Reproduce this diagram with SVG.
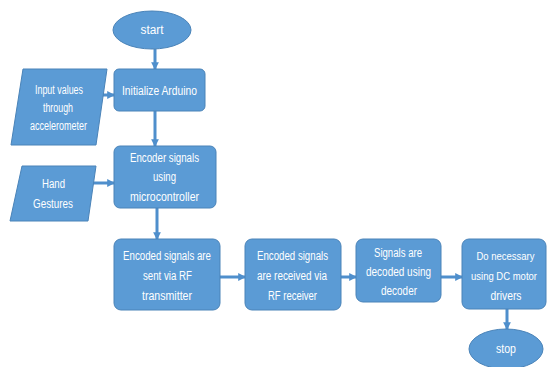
<svg xmlns="http://www.w3.org/2000/svg" width="547" height="367" viewBox="0 0 547 367">
<defs>
<style>
.n{fill:#5b9bd5;stroke:#4a83b8;stroke-width:1}
.t{font-family:"Liberation Sans",Arial,sans-serif;font-size:12.5px;fill:#ffffff;text-anchor:middle}
.s{font-size:11.5px}
.c{stroke:#4f8fcc;stroke-width:3;fill:none}
</style>
<marker id="ah" viewBox="0 0 8 8" refX="7" refY="4" markerWidth="2.6" markerHeight="2.6" orient="auto" markerUnits="strokeWidth">
<path d="M0,0 L8,4 L0,8 Z" fill="#4f8fcc"/>
</marker>
</defs>
<rect width="547" height="367" fill="#ffffff"/>
<g id="connectors">
<line class="c" x1="155" y1="49" x2="155" y2="69" marker-end="url(#ah)"/>
<line class="c" x1="103" y1="95" x2="114" y2="95" marker-end="url(#ah)"/>
<line class="c" x1="155" y1="111" x2="155" y2="146" marker-end="url(#ah)"/>
<line class="c" x1="92" y1="183" x2="114" y2="183" marker-end="url(#ah)"/>
<line class="c" x1="157" y1="208" x2="157" y2="239" marker-end="url(#ah)"/>
<line class="c" x1="220" y1="277" x2="245" y2="277" marker-end="url(#ah)"/>
<line class="c" x1="341" y1="277" x2="356" y2="277" marker-end="url(#ah)"/>
<line class="c" x1="441" y1="277" x2="462" y2="277" marker-end="url(#ah)"/>
<line class="c" x1="507" y1="309" x2="507" y2="329" marker-end="url(#ah)"/>
</g>
<g id="start">
<ellipse class="n" cx="152" cy="30" rx="39" ry="19"/>
<text class="t" x="152" y="34" textLength="23" lengthAdjust="spacingAndGlyphs">start</text>
</g>
<g id="init">
<rect class="n" x="114" y="69" width="91" height="42" rx="5"/>
<text class="t" x="159.5" y="95" textLength="75" lengthAdjust="spacingAndGlyphs">Initialize Arduino</text>
</g>
<g id="input">
<polygon class="n" points="23,69 107,69 96,145 11,145"/>
<text class="t" x="59" y="94" textLength="48" lengthAdjust="spacingAndGlyphs">Input values</text>
<text class="t" x="58" y="112" textLength="30" lengthAdjust="spacingAndGlyphs">through</text>
<text class="t" x="58.5" y="130" textLength="57" lengthAdjust="spacingAndGlyphs">accelerometer</text>
</g>
<g id="encoder">
<rect class="n" x="114" y="146" width="102" height="62" rx="6"/>
<text class="t" x="164.5" y="162" textLength="69" lengthAdjust="spacingAndGlyphs">Encoder signals</text>
<text class="t" x="164.5" y="181" textLength="23" lengthAdjust="spacingAndGlyphs">using</text>
<text class="t" x="164.5" y="201" textLength="69" lengthAdjust="spacingAndGlyphs">microcontroller</text>
</g>
<g id="hand">
<polygon class="n" points="22,166 96,166 88,221 10,221"/>
<text class="t" x="53.5" y="188" textLength="23" lengthAdjust="spacingAndGlyphs">Hand</text>
<text class="t" x="53" y="208" textLength="40" lengthAdjust="spacingAndGlyphs">Gestures</text>
</g>
<g id="sent">
<rect class="n" x="114" y="239" width="106" height="71" rx="7"/>
<text class="t" x="167" y="260" textLength="88" lengthAdjust="spacingAndGlyphs">Encoded signals are</text>
<text class="t" x="167.5" y="280" textLength="49" lengthAdjust="spacingAndGlyphs">sent via RF</text>
<text class="t" x="167" y="300" textLength="50" lengthAdjust="spacingAndGlyphs">transmitter</text>
</g>
<g id="received">
<rect class="n" x="245" y="239" width="96" height="71" rx="7"/>
<text class="t" x="292.5" y="260" textLength="71" lengthAdjust="spacingAndGlyphs">Encoded signals</text>
<text class="t" x="292" y="280" textLength="70" lengthAdjust="spacingAndGlyphs">are received via</text>
<text class="t" x="292.5" y="300" textLength="49" lengthAdjust="spacingAndGlyphs">RF receiver</text>
</g>
<g id="decoded">
<rect class="n" x="356" y="239" width="85" height="63" rx="7"/>
<text class="t" x="398" y="257" textLength="48" lengthAdjust="spacingAndGlyphs">Signals are</text>
<text class="t" x="398.5" y="276" textLength="65" lengthAdjust="spacingAndGlyphs">decoded using</text>
<text class="t" x="399" y="295" textLength="36" lengthAdjust="spacingAndGlyphs">decoder</text>
</g>
<g id="drivers">
<rect class="n" x="462" y="239" width="84" height="70" rx="7"/>
<text class="t s" x="505.5" y="260" textLength="58" lengthAdjust="spacingAndGlyphs">Do necessary</text>
<text class="t" x="504" y="280" style="font-size:11px" textLength="66" lengthAdjust="spacingAndGlyphs">using DC motor</text>
<text class="t" x="506" y="300" textLength="31" lengthAdjust="spacingAndGlyphs">drivers</text>
</g>
<g id="stop">
<ellipse class="n" cx="506" cy="349" rx="37" ry="20"/>
<text class="t" x="506" y="353" textLength="20" lengthAdjust="spacingAndGlyphs">stop</text>
</g>
</svg>
